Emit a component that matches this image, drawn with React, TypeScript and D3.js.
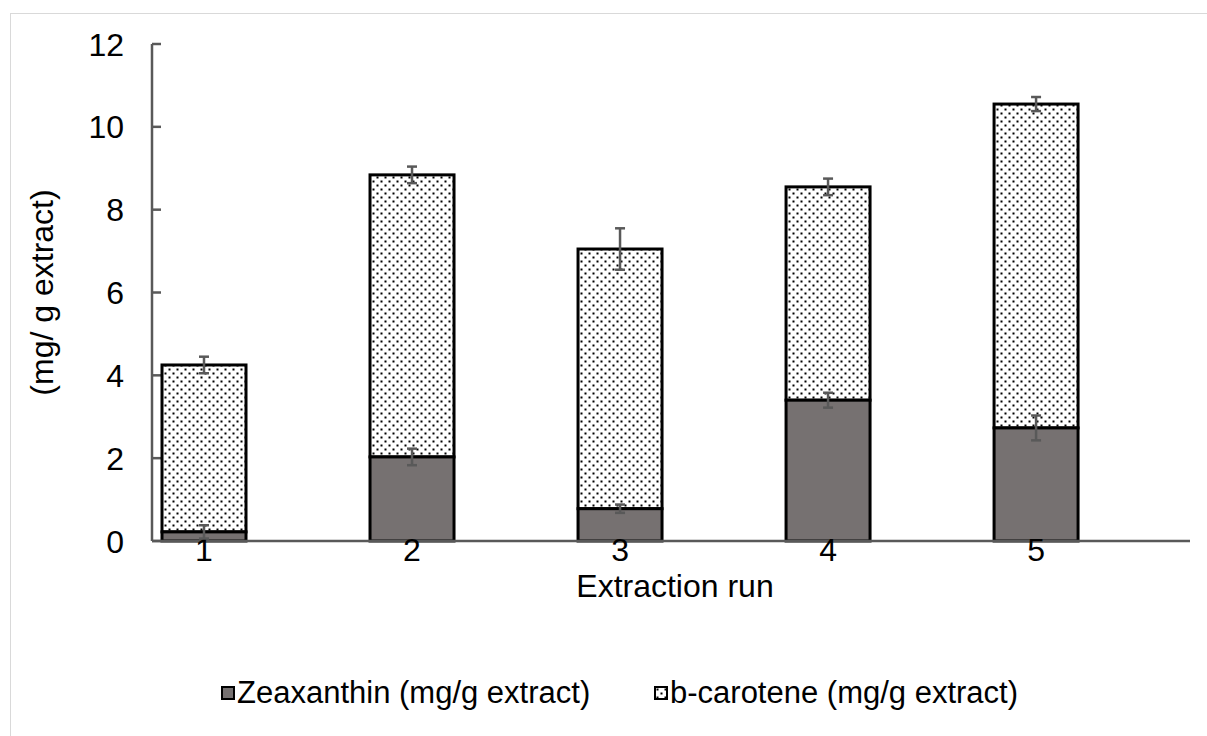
import React from "react";
import * as d3 from "d3";

// data
const runs = [1, 2, 3, 4, 5];
const zeaxanthin = [0.22, 2.03, 0.78, 3.4, 2.73];
const zeaxanthinErr = [0.16, 0.2, 0.1, 0.18, 0.3];
const bCarotene = [4.03, 6.81, 6.27, 5.15, 7.82];
const bCaroteneErr = [0.2, 0.2, 0.5, 0.2, 0.17];
const yTicks = [0, 2, 4, 6, 8, 10, 12];

const W = 1207;
const H = 736;
const FONT = "'Liberation Sans', Arial, sans-serif";
const AXIS = "#595959";
const ZEA_FILL = "#767171";

const x = d3.scaleLinear().domain([0.75, 5.74]).range([152, 1190]);
const y = d3.scaleLinear().domain([0, 12]).range([541, 44]);
const barW = 84;

const ErrorBar: React.FC<{ cx: number; v: number; e: number }> = ({ cx, v, e }) => (
  <g stroke={AXIS} strokeWidth={2.5}>
    <line x1={cx} x2={cx} y1={y(v + e)} y2={y(v - e)} />
    <line x1={cx - 5} x2={cx + 5} y1={y(v + e)} y2={y(v + e)} />
    <line x1={cx - 5} x2={cx + 5} y1={y(v - e)} y2={y(v - e)} />
  </g>
);

export default function App() {
  const totals = runs.map((_, i) => zeaxanthin[i] + bCarotene[i]);

  return (
    <svg
      width={W}
      height={H}
      style={{ position: "absolute", left: 0, top: 0, background: "#fff" }}
      fontFamily={FONT}
    >
      <defs>
        <pattern id="dots" width={8} height={8} patternUnits="userSpaceOnUse">
          <rect width={8} height={8} fill="#fff" />
          <rect x={0.5} y={0.5} width={2} height={2} fill="#000" />
          <rect x={4.5} y={4.5} width={2} height={2} fill="#000" />
        </pattern>
      </defs>

      {/* chart frame */}
      <rect x={10.5} y={13.5} width={1205} height={735} fill="none" stroke="#d9d9d9" strokeWidth={1} />

      {/* y axis */}
      <line x1={152} x2={152} y1={y(12)} y2={y(0)} stroke={AXIS} strokeWidth={2.5} />
      {yTicks.map((t) => (
        <g key={t}>
          <line x1={152} x2={161} y1={y(t)} y2={y(t)} stroke={AXIS} strokeWidth={2.5} />
          <text x={124} y={y(t)} dy="0.36em" textAnchor="end" fontSize={32} fill="#000">
            {t}
          </text>
        </g>
      ))}

      {/* bars */}
      {runs.map((r, i) => {
        const cx = x(r);
        const x0 = cx - barW / 2;
        return (
          <g key={r}>
            <rect
              x={x0}
              y={y(totals[i])}
              width={barW}
              height={y(zeaxanthin[i]) - y(totals[i])}
              fill="url(#dots)"
              stroke="#000"
              strokeWidth={3}
            />
            <rect
              x={x0}
              y={y(zeaxanthin[i])}
              width={barW}
              height={y(0) - y(zeaxanthin[i])}
              fill={ZEA_FILL}
              stroke="#000"
              strokeWidth={3}
            />
          </g>
        );
      })}

      {/* x axis */}
      <line x1={152} x2={1190} y1={y(0)} y2={y(0)} stroke={AXIS} strokeWidth={2.5} />
      {runs.map((r) => (
        <text key={r} x={x(r)} y={561} textAnchor="middle" fontSize={32} fill="#000">
          {r}
        </text>
      ))}

      {/* error bars */}
      {runs.map((r, i) => (
        <g key={r}>
          <ErrorBar cx={x(r)} v={zeaxanthin[i]} e={zeaxanthinErr[i]} />
          <ErrorBar cx={x(r)} v={totals[i]} e={bCaroteneErr[i]} />
        </g>
      ))}

      {/* axis titles */}
      <text x={675} y={597} textAnchor="middle" fontSize={32} fill="#000">
        Extraction run
      </text>
      <text
        transform={`translate(53,${y(6)}) rotate(-90)`}
        textAnchor="middle"
        fontSize={32}
        fill="#000"
      >
        (mg/ g extract)
      </text>

      {/* legend */}
      <g fontSize={31} fill="#000">
        <rect x={222} y={687} width={12} height={12} fill={ZEA_FILL} stroke="#000" strokeWidth={2} />
        <text x={237} y={703}>Zeaxanthin (mg/g extract)</text>
        <rect x={655} y={687} width={12} height={12} fill="url(#dots)" stroke="#000" strokeWidth={2} />
        <text x={670} y={703}>b-carotene (mg/g extract)</text>
      </g>
    </svg>
  );
}
